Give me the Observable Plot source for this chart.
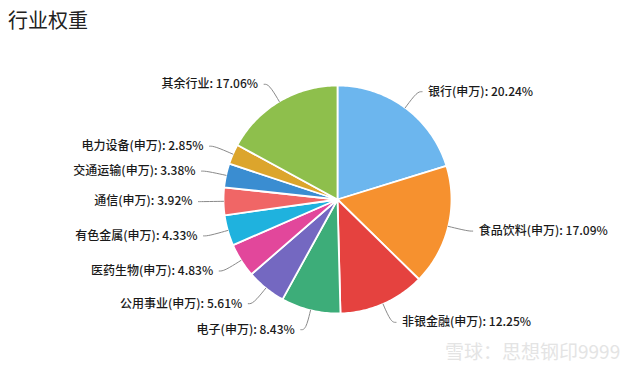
<!DOCTYPE html>
<html><head><meta charset="utf-8">
<script src="https://cdn.jsdelivr.net/npm/d3@7"></script>
<script src="https://cdn.jsdelivr.net/npm/@observablehq/plot@0.6"></script>
<style>
body{margin:0;background:#fff;font-family:"Noto Sans CJK SC","Noto Sans",sans-serif;}
#wrap{position:relative;width:640px;height:370px;overflow:hidden}
#title{height:40px;line-height:40px;padding-left:8px;font-size:20px;color:#222}
#chart svg{display:block}
#wm{position:absolute;left:445px;top:337px;font-size:19px;color:#e4e4e4;white-space:nowrap}
</style></head><body>
<div id="wrap"><div id="title">行业权重</div><div id="chart"></div><div id="wm">雪球：思想钢印9999</div></div>
<script>
const names = ["银行(申万)","食品饮料(申万)","非银金融(申万)","电子(申万)","公用事业(申万)","医药生物(申万)","有色金属(申万)","通信(申万)","交通运输(申万)","电力设备(申万)","其余行业"];
const values = [20.24,17.09,12.25,8.43,5.61,4.83,4.33,3.92,3.38,2.85,17.06];
const colors = ["#6cb6ee","#f6912f","#e5423f","#3dad79","#7468c1","#e2479b","#1fb2de","#f06666","#3a8dd1","#dca52c","#8ebf4c"];

const W = 640, H = 330, CX = 337, CY = 159, R = 114, LABEL_R = 134, H2 = 5;
const total = d3.sum(values);
let acc = 0;
const slices = names.map((n, i) => {
  const a0 = acc / total * 2 * Math.PI; acc += values[i];
  const a1 = acc / total * 2 * Math.PI;
  return {name: n, value: values[i], a0, a1, mid: (a0 + a1) / 2};
});
const poly = [];
slices.forEach(s => {
  poly.push({name: s.name, x: 0, y: 0});
  const n = Math.max(2, Math.ceil((s.a1 - s.a0) / (Math.PI / 180)));
  for (let k = 0; k <= n; k++) {
    const a = s.a0 + (s.a1 - s.a0) * k / n;
    poly.push({name: s.name, x: Math.sin(a), y: Math.cos(a)});
  }
  poly.push({name: s.name, x: 0, y: 0});
});
const leaders = [], labels = [];
slices.forEach(s => {
  const sx = Math.sin(s.mid), sy = Math.cos(s.mid);
  const r2 = LABEL_R / R;
  const right = sx >= 0;
  const ex = sx * r2, ey = sy * r2;
  const fx = ex + (right ? 1 : -1) * H2 / R;
  leaders.push({name: s.name, x: sx, y: sy}, {name: s.name, x: ex, y: ey}, {name: s.name, x: fx, y: ey});
  labels.push({name: s.name, x: ex, y: ey, right, text: `${s.name}: ${s.value.toFixed(2)}%`});
});

const chart = Plot.plot({
  width: W, height: H, margin: 0,
  x: {domain: [-CX / R, (W - CX) / R], range: [0, W], axis: null},
  y: {domain: [-(H - CY) / R, CY / R], range: [H, 0], axis: null},
  color: {domain: names, range: colors},
  style: {fontFamily: '"Noto Sans CJK SC","Noto Sans",sans-serif', background: "transparent"},
  marks: [
    Plot.line(poly, {x: "x", y: "y", z: "name", fill: "name", stroke: "#fff", strokeWidth: 1.8, strokeLinejoin: "round", curve: "linear"}),
    Plot.line(leaders, {x: "x", y: "y", z: "name", stroke: "#8a8a8a", strokeWidth: 1, curve: "basis"}),
    Plot.text(labels.filter(d => d.right), {x: "x", y: "y", text: "text", textAnchor: "start", dx: 11, fontSize: 12, fontWeight: 500, fill: "#1a1a1a"}),
    Plot.text(labels.filter(d => !d.right), {x: "x", y: "y", text: "text", textAnchor: "end", dx: -11, fontSize: 12, fontWeight: 500, fill: "#1a1a1a"})
  ]
});
document.getElementById("chart").appendChild(chart);
</script>
</body></html>
